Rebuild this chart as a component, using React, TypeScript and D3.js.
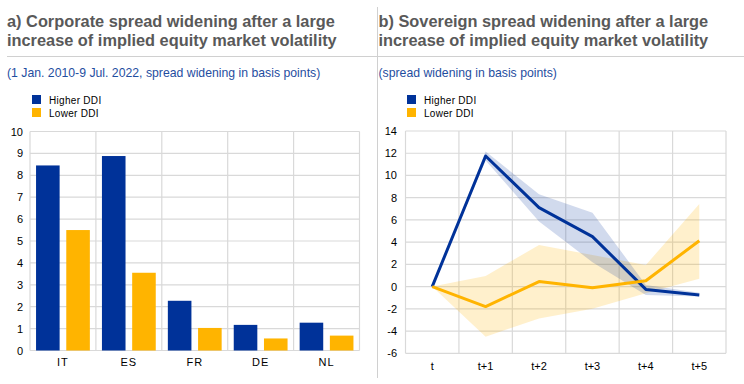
import React, { useEffect, useRef } from "react";
import * as d3 from "d3";

// panel a) corporate spreads, by country
const countries = ["IT", "ES", "FR", "DE", "NL"];
const corpHigher = [8.45, 8.88, 2.27, 1.17, 1.27];
const corpLower = [5.5, 3.55, 1.03, 0.55, 0.68];

// panel b) sovereign spreads, impulse response
const horizons = ["t", "t+1", "t+2", "t+3", "t+4", "t+5"];
const sovHigher = [0, 11.75, 7.1, 4.5, -0.25, -0.75];
const sovHigherUp = [0, 12.15, 8.3, 6.65, 0.15, -0.55];
const sovHigherLo = [0, 11.35, 5.85, 2.2, -0.75, -0.9];
const sovLower = [0, -1.8, 0.45, -0.1, 0.53, 4.13];
const sovLowerUp = [0, 0.95, 3.75, 2.85, 1.95, 7.43];
const sovLowerLo = [0, -4.5, -2.86, -2.0, -0.6, 0.7];

const seriesNames = ["Higher DDI", "Lower DDI"];
const corpTicks = d3.range(0, 11, 1);
const sovTicks = d3.range(-6, 15, 2);

const BLUE = "#003299";
const YELLOW = "#FFB400";
const GRID = "#d9d9d9";
const FONT = "'Liberation Sans', Arial, sans-serif";

const App = () => {
  const svgRef = useRef(null);

  useEffect(() => {
    const svg = d3.select(svgRef.current);
    svg.selectAll("*").remove();

    // separators
    svg.append("line").attr("x1", 7).attr("x2", 744).attr("y1", 56.5).attr("y2", 56.5)
      .attr("stroke", "#d0d0d0").attr("stroke-width", 1);
    svg.append("line").attr("x1", 377.5).attr("x2", 377.5).attr("y1", 7).attr("y2", 378)
      .attr("stroke", "#d0d0d0").attr("stroke-width", 1);

    const titles = [
      { x: 7, lines: ["a) Corporate spread widening after a large", "increase of implied equity market volatility"],
        sub: "(1 Jan. 2010-9 Jul. 2022, spread widening in basis points)" },
      { x: 378.5, lines: ["b) Sovereign spread widening after a large", "increase of implied equity market volatility"],
        sub: "(spread widening in basis points)" },
    ];
    titles.forEach(t => {
      t.lines.forEach((l, i) => {
        svg.append("text").attr("x", t.x).attr("y", 27 + i * 18.5)
          .attr("font-family", FONT).attr("font-weight", "bold").attr("font-size", 16.35)
          .attr("fill", "#595959").text(l);
      });
      svg.append("text").attr("x", t.x).attr("y", 77)
        .attr("font-family", FONT).attr("font-size", 12.25).attr("fill", "#1f4e9f").text(t.sub);
    });

    // legends
    const legends = [{ x: 32 }, { x: 407 }];
    legends.forEach(lg => {
      seriesNames.forEach((n, i) => {
        svg.append("rect").attr("x", lg.x).attr("y", 95 + i * 13).attr("width", 9).attr("height", 9)
          .attr("fill", i === 0 ? BLUE : YELLOW);
        svg.append("text").attr("x", lg.x + 17).attr("y", 103.5 + i * 13)
          .attr("font-family", FONT).attr("font-size", 10).attr("letter-spacing", 0.3)
          .attr("fill", "#000").text(n);
      });
    });

    // ---------- panel a ----------
    const ax0 = 30, ax1 = 359.5, ay0 = 131.5, ay1 = 350.5;
    const xa = d3.scaleBand().domain(countries).range([ax0, ax1]);
    const ya = d3.scaleLinear().domain([0, 10]).range([ay1, ay0]);
    const ga = svg.append("g");

    corpTicks.forEach(t => {
      ga.append("line").attr("x1", ax0).attr("x2", ax1).attr("y1", ya(t)).attr("y2", ya(t))
        .attr("stroke", GRID).attr("stroke-width", 1.2);
      ga.append("text").attr("x", 23).attr("y", ya(t) + 4).attr("text-anchor", "end")
        .attr("font-family", FONT).attr("font-size", 11).text(t);
    });
    [...countries.map(c => xa(c)), ax1].forEach(x => {
      ga.append("line").attr("x1", x).attr("x2", x).attr("y1", ay0).attr("y2", ay1)
        .attr("stroke", GRID).attr("stroke-width", 1.2);
    });

    const xs = d3.scaleBand().domain(["h", "l"]).range([0, xa.bandwidth()]).paddingInner(0.22).paddingOuter(0.2);
    [corpHigher, corpLower].forEach((vals, si) => {
      ga.selectAll(null).data(countries).enter().append("rect")
        .attr("x", c => xa(c) + xs(si === 0 ? "h" : "l"))
        .attr("y", (c, i) => ya(vals[i]))
        .attr("width", xs.bandwidth())
        .attr("height", (c, i) => ya(0) - ya(vals[i]))
        .attr("fill", si === 0 ? BLUE : YELLOW);
    });
    countries.forEach(c => {
      ga.append("text").attr("x", xa(c) + xa.bandwidth() / 2).attr("y", 366).attr("text-anchor", "middle")
        .attr("font-family", FONT).attr("font-size", 11).attr("letter-spacing", 1).text(c);
    });

    // ---------- panel b ----------
    const bx0 = 405.5, bx1 = 726, by0 = 131, by1 = 353.3;
    const xb = d3.scaleBand().domain(horizons).range([bx0, bx1]);
    const yb = d3.scaleLinear().domain([-6, 14]).range([by1, by0]);
    const gb = svg.append("g");

    sovTicks.forEach(t => {
      gb.append("line").attr("x1", bx0).attr("x2", bx1).attr("y1", yb(t)).attr("y2", yb(t))
        .attr("stroke", GRID).attr("stroke-width", 1.2);
      gb.append("text").attr("x", 397).attr("y", yb(t) + 4).attr("text-anchor", "end")
        .attr("font-family", FONT).attr("font-size", 11).text(t);
    });
    [...horizons.map(h => xb(h)), bx1].forEach(x => {
      gb.append("line").attr("x1", x).attr("x2", x).attr("y1", by0).attr("y2", by1)
        .attr("stroke", GRID).attr("stroke-width", 1.2);
    });
    horizons.forEach(h => {
      gb.append("text").attr("x", xb(h) + xb.bandwidth() / 2).attr("y", 370).attr("text-anchor", "middle")
        .attr("font-family", FONT).attr("font-size", 11).text(h);
    });

    const cx = i => xb(horizons[i]) + xb.bandwidth() / 2;
    const band = (up, lo) => d3.area().x((d, i) => cx(i)).y0((d, i) => yb(lo[i])).y1((d, i) => yb(up[i]))(up);
    const line = vals => d3.line().x((d, i) => cx(i)).y(d => yb(d))(vals);

    gb.append("path").attr("d", band(sovLowerUp, sovLowerLo)).attr("fill", YELLOW).attr("fill-opacity", 0.2);
    gb.append("path").attr("d", band(sovHigherUp, sovHigherLo)).attr("fill", BLUE).attr("fill-opacity", 0.18);
    gb.append("path").attr("d", line(sovHigher)).attr("fill", "none").attr("stroke", BLUE)
      .attr("stroke-width", 3).attr("stroke-linejoin", "round");
    gb.append("path").attr("d", line(sovLower)).attr("fill", "none").attr("stroke", YELLOW)
      .attr("stroke-width", 3).attr("stroke-linejoin", "round");
  }, []);

  return (
    <div style={{ position: "absolute", left: 0, top: 0 }}>
      <svg ref={svgRef} width={744} height={384} style={{ display: "block", background: "#fff" }} />
    </div>
  );
};

export default App;
